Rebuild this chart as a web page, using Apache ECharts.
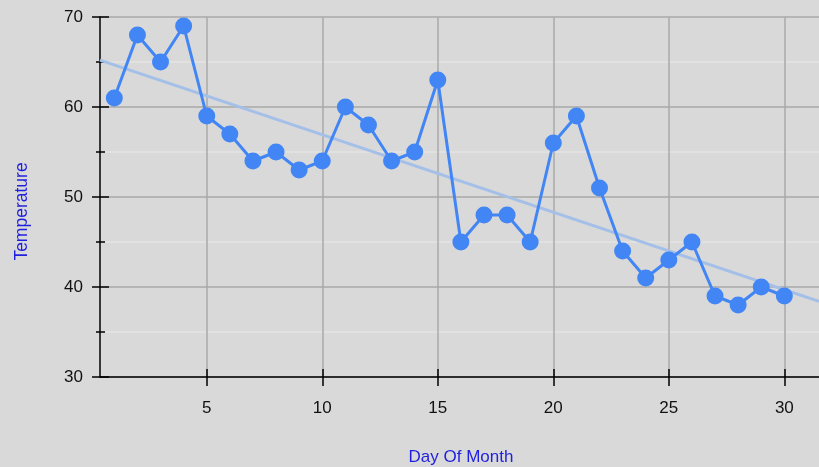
<!DOCTYPE html>
<html>
<head>
<meta charset="utf-8">
<script src="https://cdn.jsdelivr.net/npm/echarts@6/dist/echarts.min.js"></script>
<style>
  html, body { margin: 0; padding: 0; background: #d9d9d9; }
  #main { width: 819px; height: 467px; }
</style>
</head>
<body>
<div id="main"></div>
<script>
// values
var days = [1, 2, 3, 4, 5, 6, 7, 8, 9, 10, 11, 12, 13, 14, 15, 16, 17, 18, 19, 20, 21, 22, 23, 24, 25, 26, 27, 28, 29, 30];
var temps = [61, 68, 65, 69, 59, 57, 54, 55, 53, 54, 60, 58, 54, 55, 63, 45, 48, 48, 45, 56, 59, 51, 44, 41, 43, 45, 39, 38, 40, 39];
var xTicks = [5, 10, 15, 20, 25, 30];
// trend line ends (as drawn)
var trendX = [0.38, 31.5];
var trendY = [65.2, 38.4];

var chartDom = document.getElementById('main');
var myChart = echarts.init(chartDom);

var xMin = 0.38, xMax = 31.5;
var font = 'Arial, "Liberation Sans", sans-serif';

var option = {
  backgroundColor: '#d9d9d9',
  animation: false,
  grid: { left: 100, right: 0, top: 17, bottom: 90, containLabel: false, outerBoundsMode: 'none' },
  xAxis: [
    {
      type: 'value', min: xMin, max: xMax, position: 'bottom',
      name: 'Day Of Month', nameLocation: 'middle', nameGap: 72,
      nameTextStyle: { color: '#1f1fdf', fontSize: 17, fontFamily: font, padding: [0, 0, 0, 3] },
      axisLine: { show: true, onZero: false, lineStyle: { color: '#000', width: 1.5 } },
      axisTick: { show: true, length: 9, customValues: xTicks, lineStyle: { color: '#000', width: 1.5 } },
      axisLabel: { customValues: xTicks, margin: 23, color: '#111', fontSize: 17, fontFamily: font },
      splitLine: { show: true, customValues: xTicks, lineStyle: { color: '#a8a8a8', width: 1.5 } }
    },
    {
      type: 'value', min: xMin, max: xMax, position: 'bottom',
      axisLine: { show: false, onZero: false },
      axisTick: { show: true, inside: true, length: 8, customValues: xTicks, lineStyle: { color: '#000', width: 1.5 } },
      axisLabel: { show: false },
      splitLine: { show: false }
    }
  ],
  yAxis: [
    {
      type: 'value', min: 30, max: 70, interval: 10,
      name: 'Temperature', nameLocation: 'middle', nameGap: 69, nameRotate: 90,
      nameTextStyle: { color: '#1f1fdf', fontSize: 17.5, fontFamily: font, padding: [0, 29, 0, 0] },
      axisLine: { show: true, onZero: false, lineStyle: { color: '#000', width: 1.5 } },
      axisTick: { show: true, length: 8, lineStyle: { color: '#000', width: 1.5 } },
      minorTick: { show: true, splitNumber: 2, length: 4, lineStyle: { color: '#000', width: 1.5 } },
      axisLabel: { margin: 17, color: '#111', fontSize: 17, fontFamily: font },
      splitLine: { show: true, lineStyle: { color: '#a8a8a8', width: 1.5 } },
      minorSplitLine: { show: true, lineStyle: { color: '#e4e4e4', width: 1.5 } }
    },
    {
      type: 'value', min: 30, max: 70, interval: 10, position: 'left',
      axisLine: { show: false },
      axisTick: { show: true, inside: true, length: 9, lineStyle: { color: '#000', width: 1.5 } },
      minorTick: { show: true, splitNumber: 2, length: 5, lineStyle: { color: '#000', width: 1.5 } },
      axisLabel: { show: false },
      splitLine: { show: false }
    }
  ],
  series: [
    {
      name: 'Trend',
      type: 'line',
      data: [[trendX[0], trendY[0]], [trendX[1], trendY[1]]],
      symbol: 'none',
      lineStyle: { color: '#a4bfe8', width: 3 },
      z: 2
    },
    {
      name: 'Temperature',
      type: 'line',
      data: days.map(function (d, i) { return [d, temps[i]]; }),
      symbol: 'circle',
      symbolSize: 17,
      itemStyle: { color: '#4285f4' },
      lineStyle: { color: '#4285f4', width: 3 },
      z: 3
    }
  ]
};

option && myChart.setOption(option);
</script>
</body>
</html>
